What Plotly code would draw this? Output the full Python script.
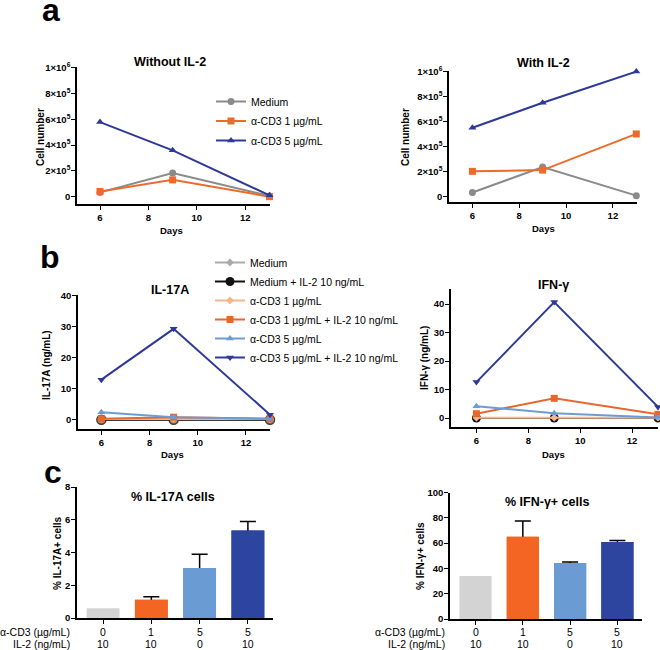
import plotly.graph_objects as go

W, H = 660, 650
FONT = "Arial, Liberation Sans, sans-serif"

# ---------------- data ----------------
days = [6, 9, 13]

# panel a
a_series = ["Medium", "α-CD3 1 µg/mL", "α-CD3 5 µg/mL"]
a_without = {
    "Medium": [33000, 184000, 5000],
    "α-CD3 1 µg/mL": [40000, 130000, 0],
    "α-CD3 5 µg/mL": [578000, 359000, 10000],
}
a_with = {
    "Medium": [30000, 234000, 5000],
    "α-CD3 1 µg/mL": [200000, 210000, 500000],
    "α-CD3 5 µg/mL": [550000, 750000, 1000000],
}
a_ytickvals = [0, 200000, 400000, 600000, 800000, 1000000]
a_yticktext = ["0", "2×10<sup>5</sup>", "4×10<sup>5</sup>", "6×10<sup>5</sup>",
               "8×10<sup>5</sup>", "1×10<sup>6</sup>"]
day_ticks = [6, 8, 10, 12]

# panel b
b_series = ["Medium", "Medium + IL-2 10 ng/mL", "α-CD3 1 µg/mL",
            "α-CD3 1 µg/mL + IL-2 10 ng/mL", "α-CD3 5 µg/mL",
            "α-CD3 5 µg/mL + IL-2 10 ng/mL"]
b_il17 = {
    "Medium": [0.0, 0.0, 0.0],
    "Medium + IL-2 10 ng/mL": [0.0, 0.0, 0.0],
    "α-CD3 1 µg/mL": [0.2, 0.3, 0.2],
    "α-CD3 1 µg/mL + IL-2 10 ng/mL": [0.3, 0.8, 0.3],
    "α-CD3 5 µg/mL": [2.4, 0.8, 0.3],
    "α-CD3 5 µg/mL + IL-2 10 ng/mL": [12.9, 29.3, 1.6],
}
b_ifn = {
    "Medium": [0.0, 0.0, 0.0],
    "Medium + IL-2 10 ng/mL": [0.0, 0.0, 0.0],
    "α-CD3 1 µg/mL": [0.1, 0.1, 0.1],
    "α-CD3 1 µg/mL + IL-2 10 ng/mL": [1.5, 6.9, 1.3],
    "α-CD3 5 µg/mL": [4.1, 1.7, 0.2],
    "α-CD3 5 µg/mL + IL-2 10 ng/mL": [12.6, 40.7, 3.9],
}
b_yticks = [0, 10, 20, 30, 40]

# panel c
c_cd3 = ["0", "1", "5", "5"]
c_il2 = ["10", "10", "0", "10"]
c_il17_pct = [0.6, 1.12, 3.05, 5.35]
c_il17_err = [0.0, 0.18, 0.85, 0.55]
c_ifn_pct = [34, 65, 44.2, 60.8]
c_ifn_err = [0.0, 12.5, 0.8, 1.3]
c_il17_yticks = [0, 2, 4, 6, 8]
c_ifn_yticks = [0, 20, 40, 60, 80, 100]

# ---------------- styles ----------------
a_style = {
    "Medium": dict(color="#8a8a8a", symbol="circle", size=7),
    "α-CD3 1 µg/mL": dict(color="#ee6a2a", symbol="square", size=7),
    "α-CD3 5 µg/mL": dict(color="#2e3896", symbol="triangle-up", size=7),
}
b_style = {
    "Medium": dict(color="#ababab", symbol="diamond", size=6),
    "Medium + IL-2 10 ng/mL": dict(color="#111111", symbol="circle", size=9),
    "α-CD3 1 µg/mL": dict(color="#f6b48a", symbol="diamond", size=6),
    "α-CD3 1 µg/mL + IL-2 10 ng/mL": dict(color="#e8672c", symbol="square", size=7),
    "α-CD3 5 µg/mL": dict(color="#6f9bd3", symbol="triangle-up", size=7),
    "α-CD3 5 µg/mL + IL-2 10 ng/mL": dict(color="#2e3896", symbol="triangle-down", size=7),
}
bar_colors = ["#d3d3d3", "#f26522", "#6a9bd2", "#2e45a0"]


def dx(x0, x1):
    return [x0 / W, x1 / W]


def dy(top, bottom):
    return [1 - bottom / H, 1 - top / H]


fig = go.Figure()

# panel a
for name in a_series:
    st = a_style[name]
    fig.add_trace(go.Scatter(x=days, y=a_without[name], name=name, mode="lines+markers",
                             line=dict(color=st["color"], width=2),
                             marker=dict(color=st["color"], symbol=st["symbol"], size=st["size"]),
                             xaxis="x", yaxis="y", legend="legend", legendgroup="a" + name,
                             showlegend=True, cliponaxis=False))
for name in a_series:
    st = a_style[name]
    fig.add_trace(go.Scatter(x=days, y=a_with[name], name=name, mode="lines+markers",
                             line=dict(color=st["color"], width=2),
                             marker=dict(color=st["color"], symbol=st["symbol"], size=st["size"]),
                             xaxis="x2", yaxis="y2", showlegend=False, cliponaxis=False))

# panel b
for name in b_series:
    st = b_style[name]
    mk = dict(color=st["color"], symbol=st["symbol"], size=st["size"])
    if name == "Medium + IL-2 10 ng/mL":
        mk = dict(color="#a99478", symbol="circle", size=9, line=dict(color="#3a3a3a", width=1.5))
    fig.add_trace(go.Scatter(x=days, y=b_il17[name], name=name, mode="lines+markers",
                             line=dict(color=st["color"], width=2), marker=mk,
                             xaxis="x3", yaxis="y3", showlegend=False, cliponaxis=False))
for name in b_series:
    st = b_style[name]
    fig.add_trace(go.Scatter(x=days, y=b_ifn[name], name=name, mode="lines+markers",
                             line=dict(color=st["color"], width=2),
                             marker=dict(color=st["color"], symbol=st["symbol"], size=st["size"]),
                             xaxis="x4", yaxis="y4", legend="legend2", legendgroup="b" + name,
                             showlegend=True, cliponaxis=False))

# panel c : bars with error bars (only where an error exists), then identical bars on top
cx = list(range(len(c_cd3)))
for vals, errs, xa, ya in ((c_il17_pct, c_il17_err, "x5", "y5"),
                           (c_ifn_pct, c_ifn_err, "x6", "y6")):
    idx = [i for i in cx if errs[i] > 0]
    fig.add_trace(go.Bar(x=idx, y=[vals[i] for i in idx], width=0.68,
                         marker=dict(color=[bar_colors[i] for i in idx], line=dict(width=0)),
                         error_y=dict(type="data", symmetric=True, array=[errs[i] for i in idx],
                                      color="black", thickness=1.5, width=8),
                         xaxis=xa, yaxis=ya, showlegend=False))
    fig.add_trace(go.Bar(x=cx, y=vals, width=0.68,
                         marker=dict(color=bar_colors, line=dict(width=0)),
                         xaxis=xa, yaxis=ya, showlegend=False))

tickfont = dict(family=FONT, size=9.5, color="black", weight="bold")
axcommon = dict(showline=True, linecolor="black", linewidth=1.5, ticks="outside",
                ticklen=4, tickwidth=1.3, tickcolor="black", showgrid=False,
                zeroline=False, tickfont=tickfont, fixedrange=True, automargin=False)
ycommon = dict(axcommon, ticklabelstandoff=-1)

layout = dict(
    template="none",
    width=W, height=H, autosize=False,
    margin=dict(l=0, r=0, t=0, b=0, pad=0),
    paper_bgcolor="white", plot_bgcolor="rgba(0,0,0,0)",
    font=dict(family=FONT, color="black"),
    barmode="overlay",
)

layout["xaxis"] = dict(axcommon, domain=dx(77, 270), range=[5.05, 13.02], anchor="y",
                       tickvals=day_ticks)
layout["yaxis"] = dict(ycommon, domain=dy(67, 204), range=[-57000, 1005000], anchor="x",
                       tickvals=a_ytickvals, ticktext=a_yticktext)
layout["xaxis2"] = dict(axcommon, domain=dx(449, 637), range=[5.0, 13.03], anchor="y2",
                        tickvals=day_ticks)
layout["yaxis2"] = dict(ycommon, domain=dy(71, 202), range=[-46000, 1005000], anchor="x2",
                        tickvals=a_ytickvals, ticktext=a_yticktext)
layout["xaxis3"] = dict(axcommon, domain=dx(78, 270), range=[5.03, 13.0], anchor="y3",
                        tickvals=day_ticks)
layout["yaxis3"] = dict(ycommon, domain=dy(295, 429), range=[-3.0, 40.2], anchor="x3",
                        tickvals=b_yticks)
layout["xaxis4"] = dict(axcommon, domain=dx(451, 658), range=[5.02, 13.0], anchor="y4",
                        tickvals=day_ticks)
layout["yaxis4"] = dict(ycommon, domain=dy(289, 427), range=[-3.16, 45.3], anchor="x4",
                        tickvals=b_yticks)
layout["xaxis5"] = dict(axcommon, domain=dx(77, 273), range=[-0.54, 3.52], anchor="y5",
                        tickvals=cx, showticklabels=False)
layout["yaxis5"] = dict(ycommon, domain=dy(487, 618), range=[0, 8], anchor="x5",
                        tickvals=c_il17_yticks)
layout["xaxis6"] = dict(axcommon, domain=dx(450, 642), range=[-0.54, 3.52], anchor="y6",
                        tickvals=cx, showticklabels=False)
layout["yaxis6"] = dict(ycommon, domain=dy(492.5, 619), range=[0, 100], anchor="x6",
                        tickvals=c_ifn_yticks)

layout["legend"] = dict(x=211 / W, y=1 - 87 / H, xanchor="left", yanchor="top",
                        font=dict(family=FONT, size=10.5, color="black"),
                        bgcolor="rgba(0,0,0,0)", traceorder="grouped", tracegroupgap=0.5,
                        itemwidth=30, borderwidth=0)
layout["legend2"] = dict(x=210 / W, y=1 - 248 / H, xanchor="left", yanchor="top",
                         font=dict(family=FONT, size=10.5, color="black"),
                         bgcolor="rgba(0,0,0,0)", traceorder="grouped", tracegroupgap=0,
                         itemwidth=30, borderwidth=0)

ann = []


def text(x, y, s, size, bold=True, angle=0, xanchor="center", xref="paper"):
    ann.append(dict(x=(x / W) if xref == "paper" else x, y=1 - y / H, xref=xref, yref="paper",
                    text=s, showarrow=False, textangle=angle, xanchor=xanchor,
                    yanchor="middle",
                    font=dict(family=FONT, size=size, color="black",
                              weight="bold" if bold else "normal")))


# panel letters
text(51, 10, "a", 32)
text(50, 257, "b", 32)
text(53, 472, "c", 32)

# titles
text(170, 62, "Without IL-2", 12.5)
text(543, 63, "With IL-2", 12.5)
text(170, 290, "IL-17A", 12.5)
text(553, 285, "IFN-γ", 12.5)
text(173, 497, "% IL-17A cells", 12.5)
text(547, 502, "% IFN-γ+ cells", 12.5)

# axis titles
text(40, 137, "Cell number", 10, angle=-90)
text(405, 137, "Cell number", 10, angle=-90)
text(171, 230.5, "Days", 9.5)
text(543, 228.5, "Days", 9.5)
text(46, 365, "IL-17A (ng/mL)", 10, angle=-90)
text(424, 358, "IFN-γ (ng/mL)", 10, angle=-90)
text(172, 455, "Days", 9.5)
text(553, 455, "Days", 9.5)
text(57, 553, "% IL-17A+ cells", 10, angle=-90)
text(420, 556, "% IFN-γ+ cells", 10, angle=-90)

# category labels for bar charts
for xa, hdr_x in (("x5", 72), ("x6", 447)):
    text(hdr_x, 631.5, "α-CD3 (µg/mL)", 10.5, bold=False, xanchor="right")
    text(hdr_x, 643.5, "IL-2 (ng/mL)", 10.5, bold=False, xanchor="right")
    for i in cx:
        text(i, 631.5, c_cd3[i], 10.5, bold=False, xref=xa)
        text(i, 643.5, c_il2[i], 10.5, bold=False, xref=xa)

layout["annotations"] = ann
fig.update_layout(**layout)

fig.write_html("out.html", config={"displayModeBar": False},
               post_script="document.body.style.margin='0';document.body.style.overflow='hidden';")
